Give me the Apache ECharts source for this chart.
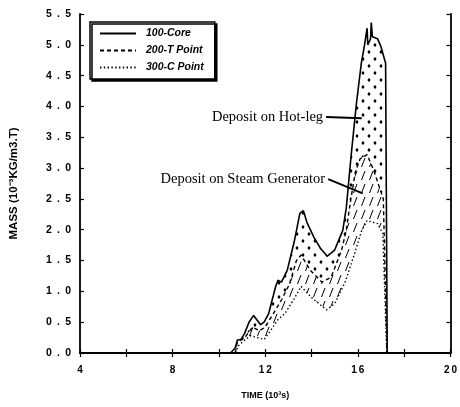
<!DOCTYPE html>
<html>
<head>
<meta charset="utf-8">
<script src="https://cdn.jsdelivr.net/npm/echarts@6/dist/echarts.min.js"></script>
<style>
  html, body { margin: 0; padding: 0; background: #fff; }
  #chart { width: 460px; height: 407px; }
</style>
</head>
<body>
<div id="chart"></div>
<script>
// Deposited mass versus time (10^3 s) at three sampling points
const coreTime = [10.5, 10.7, 10.8, 10.95, 11.1, 11.3, 11.5, 11.8, 11.95, 12.15, 12.3, 12.45, 12.55, 12.7, 12.95, 13.25, 13.5, 13.65, 13.8, 14.1, 14.4, 14.68, 15.0, 15.35, 15.5, 15.72, 15.94, 16.15, 16.3, 16.4, 16.43, 16.55, 16.58, 16.63, 16.85, 17.0, 17.2, 17.27];
const coreMass = [0.0, 0.08, 0.21, 0.22, 0.31, 0.5, 0.61, 0.46, 0.5, 0.64, 0.86, 1.08, 1.18, 1.15, 1.34, 1.8, 2.27, 2.31, 2.12, 1.88, 1.69, 1.57, 1.67, 1.99, 2.35, 3.24, 4.05, 4.7, 5.02, 5.27, 5.0, 5.1, 5.36, 5.13, 5.1, 4.97, 4.7, 0.0];

const tPointTime = [10.7, 10.8, 11.1, 11.45, 11.75, 12.0, 12.35, 12.7, 13.05, 13.35, 13.55, 13.95, 14.45, 14.85, 15.3, 15.5, 15.7, 15.9, 16.1, 16.4, 16.7, 17.1, 17.26];
const tPointMass = [0.0, 0.18, 0.24, 0.42, 0.36, 0.42, 0.64, 0.86, 1.12, 1.5, 1.59, 1.34, 1.15, 1.23, 1.67, 1.99, 2.5, 2.95, 3.15, 3.22, 2.95, 2.5, 0.0];

const cPointTime = [10.75, 10.8, 11.02, 11.35, 11.65, 11.95, 12.23, 12.52, 12.85, 13.25, 13.55, 14.0, 14.65, 15.0, 15.45, 15.85, 16.15, 16.4, 16.85, 17.08, 17.25];
const cPointMass = [0.0, 0.1, 0.18, 0.28, 0.25, 0.22, 0.36, 0.53, 0.64, 0.88, 1.08, 0.9, 0.7, 0.8, 1.15, 1.6, 1.97, 2.15, 2.1, 1.94, 0.0];

const seriesNames = ['100-Core', '200-T Point', '300-C Point'];
const xTickLabels = [4, 8, 12, 16, 20];
const yTickLabels = [0.0, 0.5, 1.0, 1.5, 2.0, 2.5, 3.0, 3.5, 4.0, 4.5, 5.0, 5.5];

const xTitle = 'TIME (10\u00B3s)';
const yTitle = 'MASS (10\u207B\u00B3KG/m3.T)';
const notes = [
  { text: 'Deposit on Hot-leg', from: [14.63, 3.83], to: [16.17, 3.81] },
  { text: 'Deposit on Steam Generator', from: [14.72, 2.82], to: [16.21, 2.59] }
];

const pairs = (ts, vs) => ts.map((t, i) => [t, vs[i]]);

// stippled fill for the hot-leg band
function dotTile() {
  const c = document.createElement('canvas');
  c.width = 12; c.height = 14;
  const g = c.getContext('2d');
  g.fillStyle = '#fff'; g.fillRect(0, 0, c.width, c.height);
  g.fillStyle = '#000';
  [[3, 3], [9, 10]].forEach(([x, y]) => {
    g.beginPath(); g.ellipse(x, y, 1.3, 1.7, 0.3, 0, Math.PI * 2); g.fill();
  });
  return c;
}
// short slanted strokes for the steam-generator band
function hatchTile() {
  const c = document.createElement('canvas');
  c.width = 8; c.height = 13;
  const g = c.getContext('2d');
  g.fillStyle = '#fff'; g.fillRect(0, 0, c.width, c.height);
  g.strokeStyle = '#000'; g.lineWidth = 1;
  g.beginPath(); g.moveTo(1.5, 11); g.lineTo(5, 2); g.stroke();
  return c;
}

const spaced = (s, sep) => String(s).split('').join(sep);
const tickFont = { fontFamily: 'Liberation Sans', fontWeight: 'bold', color: '#000' };

const chart = echarts.init(document.getElementById('chart'), null, { renderer: 'canvas' });

const fillBase = { type: 'line', symbol: 'none', silent: true, lineStyle: { opacity: 0 }, xAxisIndex: 0, yAxisIndex: 0 };
const lineBase = { type: 'line', symbol: 'none', showSymbol: false, z: 6, xAxisIndex: 0, yAxisIndex: 0 };

chart.setOption({
  animation: false,
  backgroundColor: '#fff',
  grid: { left: 79, right: 6, top: 14, bottom: 54 },
  legend: {
    data: seriesNames,
    orient: 'vertical',
    left: 90, top: 22,
    itemWidth: 36, itemHeight: 8, itemGap: 6,
    padding: [6, 11, 6, 9],
    backgroundColor: '#fff',
    borderColor: '#000', borderWidth: 1.5,
    shadowColor: '#000', shadowBlur: 0, shadowOffsetX: 2, shadowOffsetY: 2,
    itemStyle: { opacity: 0 },
    textStyle: { fontFamily: 'Liberation Sans', fontWeight: 'bold', fontStyle: 'italic', fontSize: 10.5, color: '#000', padding: [0, 0, 0, 5] },
    z: 10
  },
  xAxis: [{
    type: 'value', min: 4, max: 20, interval: 2, z: 8,
    axisLine: { lineStyle: { color: '#000', width: 1.8 } },
    axisTick: { inside: true, length: 4, lineStyle: { color: '#000', width: 1.2 } },
    splitLine: { show: false },
    axisLabel: Object.assign({ margin: 12, fontSize: 10,
      formatter: v => xTickLabels.includes(v) ? spaced(v, '\u2009') : '' }, tickFont),
    name: xTitle, nameLocation: 'middle', nameGap: 38,
    nameTextStyle: { fontFamily: 'Liberation Sans', fontWeight: 'bold', fontSize: 9, color: '#000' }
  }, {
    type: 'value', position: 'top', min: 4, max: 20, interval: 2, z: 8,
    axisLine: { lineStyle: { color: '#000', width: 1.8 } },
    axisTick: { inside: true, length: 4, lineStyle: { color: '#000', width: 1.2 } },
    splitLine: { show: false }, axisLabel: { show: false }
  }],
  yAxis: [{
    type: 'value', min: 0, max: 5.5, interval: 0.5, z: 8,
    axisLine: { lineStyle: { color: '#000', width: 1.8 } },
    axisTick: { inside: true, length: 4, lineStyle: { color: '#000', width: 1.2 } },
    splitLine: { show: false },
    axisLabel: Object.assign({ margin: 9, fontSize: 10.5,
      formatter: v => yTickLabels.includes(v) ? spaced(v.toFixed(1), '\u2002') : '' }, tickFont),
    name: yTitle, nameLocation: 'middle', nameGap: 60,
    nameTextStyle: { fontFamily: 'Liberation Sans', fontWeight: 'bold', fontSize: 11.5, color: '#000' }
  }, {
    type: 'value', position: 'right', min: 0, max: 5.5, interval: 0.5, z: 8,
    axisLine: { lineStyle: { color: '#000', width: 1.8 } },
    axisTick: { inside: true, length: 4, lineStyle: { color: '#000', width: 1.2 } },
    splitLine: { show: false }, axisLabel: { show: false }
  }],
  series: [
    Object.assign({}, fillBase, { name: 'hot-leg band', data: pairs(coreTime, coreMass), z: 2,
      areaStyle: { color: { image: dotTile(), repeat: 'repeat' }, opacity: 1 } }),
    Object.assign({}, fillBase, { name: 'steam-generator band', data: pairs(tPointTime, tPointMass), z: 3,
      areaStyle: { color: { image: hatchTile(), repeat: 'repeat' }, opacity: 1 } }),
    Object.assign({}, fillBase, { name: 'below C point', data: pairs(cPointTime, cPointMass), z: 4,
      areaStyle: { color: '#fff', opacity: 1 } }),
    Object.assign({}, lineBase, { name: seriesNames[0], data: pairs(coreTime, coreMass),
      lineStyle: { color: '#000', width: 1.6 }, itemStyle: { color: '#000' } }),
    Object.assign({}, lineBase, { name: seriesNames[1], data: pairs(tPointTime, tPointMass),
      lineStyle: { color: '#000', width: 1.4, type: [4, 3] }, itemStyle: { color: '#000' } }),
    Object.assign({}, lineBase, { name: seriesNames[2], data: pairs(cPointTime, cPointMass),
      lineStyle: { color: '#000', width: 1.4, type: [1.4, 2.4] }, itemStyle: { color: '#000' } })
  ]
});

// annotation labels with pointer lines, anchored in data space
const px = p => chart.convertToPixel({ xAxisIndex: 0, yAxisIndex: 0 }, p);
const graphics = [];
notes.forEach(n => {
  const a = px(n.from), b = px(n.to);
  graphics.push({
    type: 'line', z: 20,
    shape: { x1: a[0], y1: a[1], x2: b[0], y2: b[1] },
    style: { stroke: '#000', lineWidth: 2 }
  });
  graphics.push({
    type: 'text', z: 20, x: a[0] - 3, y: a[1],
    style: { text: n.text, fill: '#000', font: '14.5px "Liberation Serif"', align: 'right', verticalAlign: 'middle' }
  });
});
chart.setOption({ graphic: graphics });
</script>
</body>
</html>
